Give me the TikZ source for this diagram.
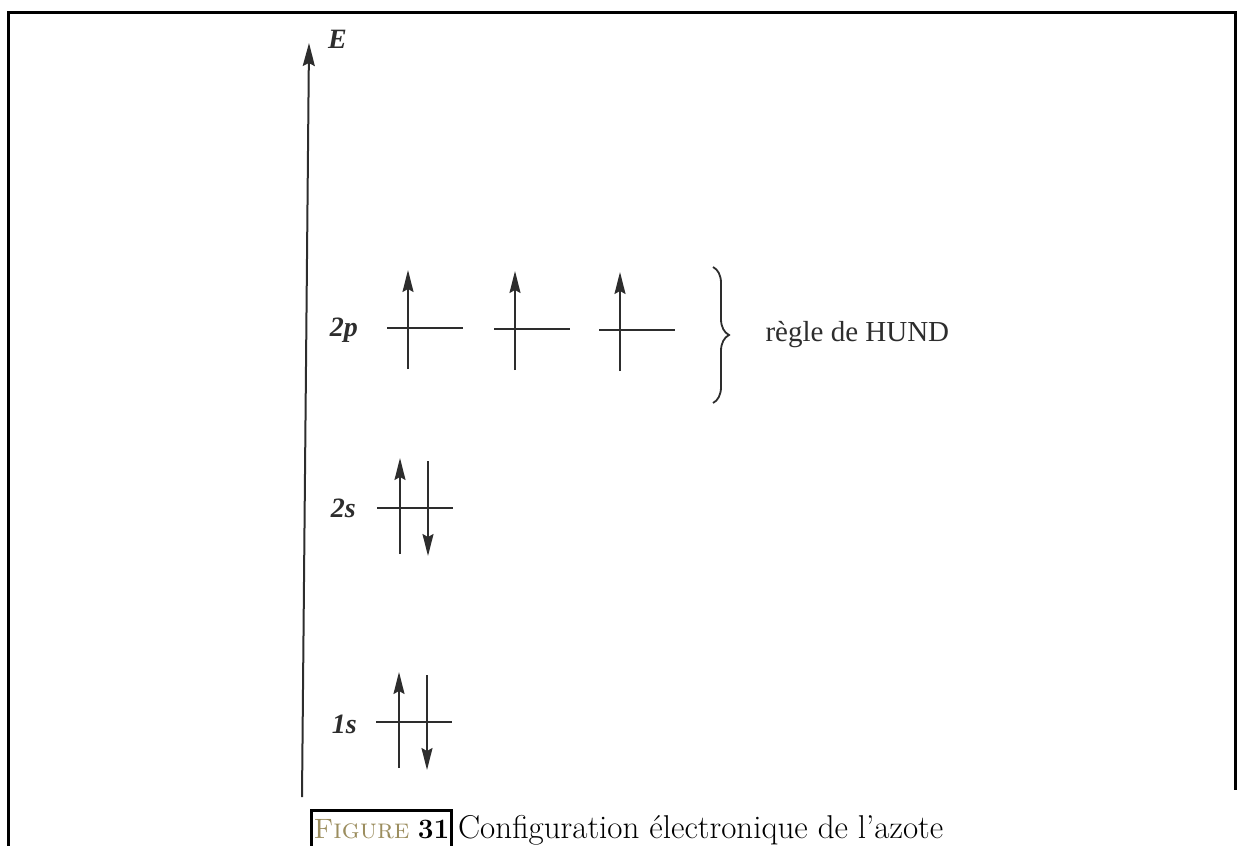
\documentclass[tikz,border=0pt]{standalone}
\usepackage{fontspec}
\newfontfamily\timesfont{Liberation Serif}
\usepackage{xcolor}
\usetikzlibrary{positioning, arrows.meta, decorations.pathreplacing}
\definecolor{figkhaki}{RGB}{155,141,94}
\definecolor{inkgray}{RGB}{45,45,45}

\begin{document}
\begin{tikzpicture}[
        x=1pt, y=-1pt,
        frame/.style={line width=3pt, black},
        level/.style={line width=1.8pt, draw=inkgray},
        spin/.style={line width=1.8pt, draw=inkgray,
            -{Stealth[length=22pt, width=11pt, inset=3pt]}},
        axis/.style={line width=2pt, draw=inkgray,
            -{Stealth[length=23pt, width=12pt, inset=3pt]}},
        shell/.style={font=\timesfont\fontsize{28}{30}\selectfont\bfseries\itshape,
            text=inkgray, inner sep=0pt, anchor=base east},
        hund/.style={line width=1.8pt, draw=inkgray,
            decorate, decoration={brace, amplitude=16pt}},
        capbox/.style={draw, line width=3pt, inner xsep=2pt, inner ysep=0pt,
            text height=27.5pt, text depth=20pt, anchor=base west,
            font=\fontsize{28}{34}\selectfont}
    ]
    \useasboundingbox (0,0) rectangle (1237,846);
    \clip (0,0) rectangle (1237,846);

    % page frame
    \draw[frame] (8,870) -- (8,12) -- (1235,12) -- (1235,790);

    % energy axis
    \coordinate (axbot) at (302,797);
    \coordinate (axtop) at (309,43);
    \draw[axis] (axbot) -- (axtop);
    \node[shell, anchor=base west] (E) at (328,48) {E};

    % 2p
    \node[shell] (l2p) at (358,336) {2p};
    \coordinate (p1) at (425,328);
    \coordinate (p2) at (532,329);
    \coordinate (p3) at (637,330);
    \foreach \o in {p1,p2,p3} {
        \draw[level] ([xshift=-38pt]\o) -- ([xshift=38pt]\o);
        \draw[spin] ([xshift=-17pt, yshift=-41pt]\o) -- ([xshift=-17pt, yshift=58pt]\o);
    }
    \coordinate (bt) at (713,267);
    \coordinate (bb) at (713,403);
    \draw[hund] (bt) -- (bb);
    \node[anchor=west, font=\timesfont\fontsize{29}{32}\selectfont, text=inkgray]
        (hund) at (762,335) {règle de HUND};

    % 2s et 1s
    \node[shell] (l2s) at (356,517) {2s};
    \node[shell] (l1s) at (357,733) {1s};
    \coordinate (s2) at (415,508);
    \coordinate (s1) at (414,722);
    \foreach \o in {s2,s1} {
        \draw[level] ([xshift=-38pt]\o) -- ([xshift=38pt]\o);
        \draw[spin] ([xshift=-15pt, yshift=-46pt]\o) -- ([xshift=-15pt, yshift=50pt]\o);
        \draw[spin] ([xshift=13pt, yshift=47pt]\o) -- ([xshift=13pt, yshift=-48pt]\o);
    }

    % legende
    \node[capbox] (figbox) at (310,838)
        {\textcolor{figkhaki}{\textsc{Figure}} \textbf{31}};
    \node[anchor=base west, inner sep=0pt, font=\fontsize{33}{38}\selectfont]
        (figtxt) at ([xshift=5pt]figbox.base east) {Configuration électronique de l'azote};
\end{tikzpicture}
\end{document}
